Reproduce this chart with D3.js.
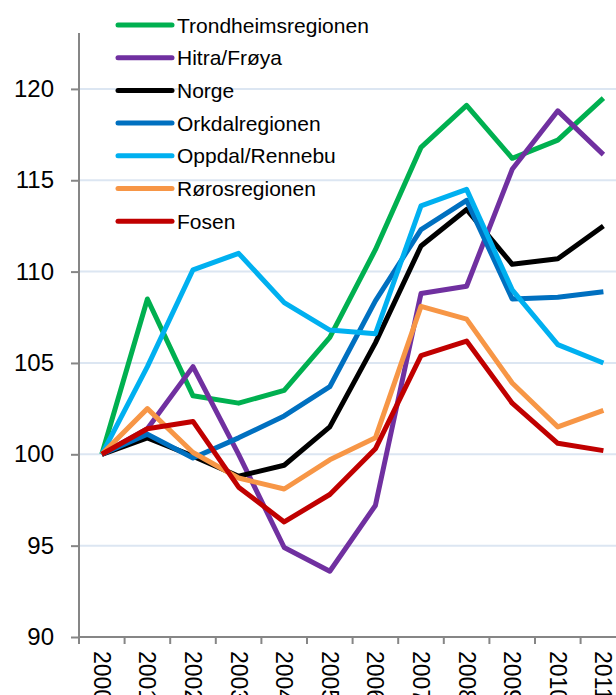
<!DOCTYPE html>
<html>
<head>
<meta charset="utf-8">
<script src="https://cdn.jsdelivr.net/npm/d3@7"></script>
<style>
  body { margin: 0; background: #fff; }
  svg { display: block; font-family: "Liberation Sans", Arial, sans-serif; }
</style>
</head>
<body>
<svg id="chart" width="616" height="695"></svg>
<script>
// år på x-aksen
const years = ["2000", "2001", "2002", "2003", "2004", "2005", "2006", "2007", "2008", "2009", "2010", "2011"];

// indeks (2000 = 100), lest av bildet
const trondheim = [100, 108.5, 103.2, 102.8, 103.5, 106.4, 111.2, 116.8, 119.1, 116.2, 117.2, 119.5];
const hitra     = [100, 101.4, 104.8, 100.0, 94.9, 93.6, 97.2, 108.8, 109.2, 115.6, 118.8, 116.4];
const norge     = [100, 100.9, 99.9, 98.8, 99.4, 101.5, 106.1, 111.4, 113.4, 110.4, 110.7, 112.5];
const orkdal    = [100, 101.1, 99.8, 100.9, 102.1, 103.7, 108.4, 112.3, 113.9, 108.5, 108.6, 108.9];
const oppdal    = [100, 104.8, 110.1, 111.0, 108.3, 106.8, 106.6, 113.6, 114.5, 109.0, 106.0, 105.0];
const roros     = [100, 102.5, 100.1, 98.7, 98.1, 99.7, 100.9, 108.1, 107.4, 103.9, 101.5, 102.4];
const fosen     = [100, 101.4, 101.8, 98.2, 96.3, 97.8, 100.3, 105.4, 106.2, 102.8, 100.6, 100.2];

const yTicks = [90, 95, 100, 105, 110, 115, 120];

const series = [
    {name: "Trondheimsregionen", values: trondheim, color: "#00b050"},
    {name: "Hitra/Frøya",        values: hitra,     color: "#7030a0"},
    {name: "Norge",              values: norge,     color: "#000000"},
    {name: "Orkdalregionen",     values: orkdal,    color: "#0070c0"},
    {name: "Oppdal/Rennebu",     values: oppdal,    color: "#00b0f0"},
    {name: "Rørosregionen",      values: roros,     color: "#f79646"},
    {name: "Fosen",              values: fosen,     color: "#c00000"}
];

const svg = d3.select("#chart");

// plottområdet går litt ut over høyre kant, som i originalen
const plotLeft = 79, plotTop = 33, plotBottom = 637;
const scaleX = d3.scaleBand().domain(years).range([plotLeft, plotLeft + 12 * 45.6]);
const scaleY = d3.scaleLinear().domain([90, 123.06]).range([plotBottom, plotTop]);

// rutenett
svg.append("g")
    .selectAll("line")
    .data(yTicks.filter(t => t > 90))
    .enter()
    .append("line")
    .attr("x1", plotLeft)
    .attr("x2", 616)
    .attr("y1", d => scaleY(d))
    .attr("y2", d => scaleY(d))
    .attr("stroke", "#dce6f2")
    .attr("stroke-width", 2);

// y-akse
const axisY = svg.append("g")
    .attr("transform", `translate(${plotLeft},0)`)
    .call(d3.axisLeft(scaleY).tickValues(yTicks).tickSize(8).tickPadding(17));
axisY.select(".domain").attr("stroke", "#868686").attr("stroke-width", 2)
    .attr("d", `M0,${plotBottom}V${plotTop}`);
axisY.selectAll(".tick line").attr("stroke", "#868686").attr("stroke-width", 2);
axisY.selectAll("text").attr("font-size", 24).attr("fill", "#000")
    .attr("font-family", "Liberation Sans, Arial, sans-serif");

// x-akse: streker på kategorigrensene
const axisX = svg.append("g").attr("transform", `translate(0,${plotBottom})`);
axisX.append("line")
    .attr("x1", plotLeft).attr("x2", 616)
    .attr("stroke", "#868686").attr("stroke-width", 2);
axisX.selectAll(".xtick")
    .data(years)
    .enter()
    .append("line")
    .attr("class", "xtick")
    .attr("x1", d => scaleX(d))
    .attr("x2", d => scaleX(d))
    .attr("y1", 0).attr("y2", 7)
    .attr("stroke", "#868686").attr("stroke-width", 2);
axisX.selectAll(".xlabel")
    .data(years)
    .enter()
    .append("text")
    .attr("class", "xlabel")
    .attr("transform", d => `translate(${scaleX(d) + scaleX.bandwidth() / 2},14) rotate(90)`)
    .attr("dy", "0.35em")
    .attr("font-size", 23)
    .attr("fill", "#000")
    .text(d => d);

// linjene (Fosen tegnes sist, øverst)
const line = d3.line()
    .x((d, i) => scaleX(years[i]) + scaleX.bandwidth() / 2)
    .y(d => scaleY(d));

svg.append("g")
    .selectAll("path")
    .data(series)
    .enter()
    .append("path")
    .attr("fill", "none")
    .attr("stroke", d => d.color)
    .attr("stroke-width", 5)
    .attr("stroke-linejoin", "round")
    .attr("d", d => line(d.values));

// forklaring
const legend = svg.append("g")
    .selectAll("g")
    .data(series)
    .enter()
    .append("g")
    .attr("transform", (d, i) => `translate(118,${25 + i * 32.7})`);
legend.append("line")
    .attr("x1", 0).attr("x2", 54)
    .attr("stroke", d => d.color)
    .attr("stroke-width", 5)
    .attr("stroke-linecap", "round");
legend.append("text")
    .attr("x", 59)
    .attr("dy", "0.36em")
    .attr("font-size", 21)
    .attr("fill", "#000")
    .text(d => d.name);
</script>
</body>
</html>
